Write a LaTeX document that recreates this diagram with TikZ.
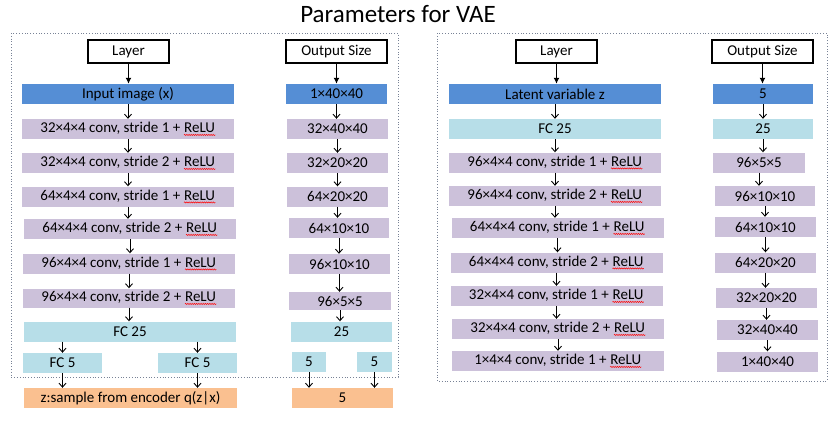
\documentclass[tikz,border=0pt]{standalone}
\usepackage{fontspec}
\setmainfont{Carlito}
\usetikzlibrary{arrows.meta,decorations.pathmorphing}

\definecolor{inblue}{RGB}{85,142,213}
\definecolor{convlilac}{RGB}{204,193,218}
\definecolor{fcblue}{RGB}{183,222,232}
\definecolor{zorange}{RGB}{250,192,144}
\definecolor{framegray}{RGB}{120,130,150}

% ReLU with the red squiggle under it
\newcommand{\relu}{\tikz[baseline=(rl.base)]{\node[inner sep=0pt, minimum width=0pt, minimum height=0pt, fill=none, draw=none] (rl) {ReLU};
  \draw[red, line width=0.5pt, decorate, decoration={snake, amplitude=0.6pt, segment length=2.2pt}]
    ([yshift=-2pt]rl.south west) -- ([yshift=-2pt]rl.south east);}}

\tikzset{
  blk/.style={inner sep=0pt, minimum height=20pt, font=\fontsize{15}{18}\selectfont},
  headblk/.style={blk, draw=black, line width=1.4pt, fill=white, minimum width=81pt, minimum height=23pt},
  inblk/.style={blk, fill=inblue, minimum width=212pt},
  convblk/.style={blk, fill=convlilac, minimum width=212pt},
  fcblk/.style={blk, fill=fcblue, minimum width=212pt},
  zblk/.style={blk, fill=zorange, minimum width=213pt},
  flow/.style={-{Straight Barb[length=4pt,width=7pt]}, line width=0.9pt},
  bigflow/.style={-{Latex[length=6pt,width=6pt]}, line width=1.6pt},
  frame/.style={draw=framegray, dotted, line width=0.8pt}
}

\begin{document}
\begin{tikzpicture}[x=1pt, y=-1pt]
\useasboundingbox (0,0) rectangle (836,421);

% title
\node (title) at (398,14) {\fontsize{25}{30}\selectfont Parameters for VAE};

% dotted frames
\draw[frame] (11,33) rectangle (398,377);
\draw[frame] (437,33) rectangle (827,381);

% encoder: layers
\node[headblk] (elayer) at (128.5,51.5) {Layer};
\node[inblk] (ein) at (128,94) {Input image (x)};
\node[convblk] (ec1) at (128,129) {32×4×4 conv, stride 1 + \relu};
\node[convblk] (ec2) at (128,163) {32×4×4 conv, stride 2 + \relu};
\node[convblk] (ec3) at (128,196.5) {64×4×4 conv, stride 1 + \relu};
\node[convblk] (ec4) at (130,229) {64×4×4 conv, stride 2 + \relu};
\node[convblk] (ec5) at (129,263.5) {96×4×4 conv, stride 1 + \relu};
\node[convblk, minimum height=19pt] (ec6) at (129,298) {96×4×4 conv, stride 2 + \relu};
\node[fcblk] (efc) at (130,331.5) {FC 25};
\node[fcblk, minimum width=79pt] (efca) at (62.5,363) {FC 5};
\node[fcblk, minimum width=79pt] (efcb) at (197.5,363) {FC 5};
\node[zblk] (ez) at (130.5,398) {z:sample from encoder q(z|x)};

% encoder: output sizes
\node[headblk, minimum width=101pt] (eout) at (336.5,51.5) {Output Size};
\node[inblk, minimum width=101pt] (eo0) at (336.5,94) {1×40×40};
\node[convblk, minimum width=101pt] (eo1) at (337.5,129) {32×40×40};
\node[convblk, minimum width=101pt] (eo2) at (337.5,163) {32×20×20};
\node[convblk, minimum width=101pt] (eo3) at (337.5,196.5) {64×20×20};
\node[convblk, minimum width=100pt] (eo4) at (339,228) {64×10×10};
\node[convblk, minimum width=101pt] (eo5) at (339.5,264) {96×10×10};
\node[convblk, minimum width=102pt, minimum height=18pt] (eo6) at (340,301) {96×5×5};
\node[fcblk, minimum width=101pt] (eo7) at (341.5,331.5) {25};
\node[fcblk, minimum width=34pt] (eo8a) at (309,362) {5};
\node[fcblk, minimum width=35pt] (eo8b) at (374.5,362) {5};
\node[zblk, minimum width=101pt] (eoz) at (342.5,398) {5};

% decoder: layers
\node[headblk] (dlayer) at (556.5,51.5) {Layer};
\node[inblk] (din) at (555,94) {Latent variable z};
\node[fcblk] (dfc) at (555,129) {FC 25};
\node[convblk] (dc1) at (555,162.5) {96×4×4 conv, stride 1 + \relu};
\node[convblk] (dc2) at (555,196) {96×4×4 conv, stride 2 + \relu};
\node[convblk] (dc3) at (557.5,228) {64×4×4 conv, stride 1 + \relu};
\node[convblk] (dc4) at (556.5,262.5) {64×4×4 conv, stride 2 + \relu};
\node[convblk] (dc5) at (556.5,296) {32×4×4 conv, stride 1 + \relu};
\node[convblk] (dc6) at (558,329) {32×4×4 conv, stride 2 + \relu};
\node[convblk] (dc7) at (558,361) {1×4×4 conv, stride 1 + \relu};

% decoder: output sizes
\node[headblk, minimum width=101pt] (dout) at (762.5,51.5) {Output Size};
\node[inblk, minimum width=100pt] (do0) at (763,94) {5};
\node[fcblk, minimum width=100pt] (do1) at (763,129) {25};
\node[convblk, minimum width=92pt] (do2) at (759,162.5) {96×5×5};
\node[convblk, minimum width=100pt] (do3) at (765,196) {96×10×10};
\node[convblk, minimum width=101pt] (do4) at (765.5,227) {64×10×10};
\node[convblk, minimum width=101pt] (do5) at (765.5,262.5) {64×20×20};
\node[convblk, minimum width=101pt] (do6) at (766.5,298) {32×20×20};
\node[convblk, minimum width=101pt] (do7) at (767.5,330) {32×40×40};
\node[convblk, minimum width=101pt] (do8) at (767.5,361.5) {1×40×40};

% header arrows
\foreach \a/\b in {elayer/ein, eout/eo0, dlayer/din, dout/do0}
  \draw[bigflow] (\a.south) -- (\a.south |- \b.north);

% chain arrows
\foreach \a/\b in {ein/ec1, ec1/ec2, ec2/ec3, ec3/ec4, ec4/ec5, ec5/ec6, ec6/efc,
                   eo0/eo1, eo1/eo2, eo2/eo3, eo3/eo4, eo4/eo5, eo5/eo6, eo6/eo7,
                   din/dfc, dfc/dc1, dc1/dc2, dc2/dc3, dc3/dc4, dc4/dc5, dc5/dc6, dc6/dc7,
                   do0/do1, do1/do2, do2/do3, do3/do4, do4/do5, do5/do6, do6/do7, do7/do8}
  \draw[flow] (\a.south) -- (\a.south |- \b.north);

% split into the two FC 5 and join at the sample
\foreach \s in {efca, efcb}
  \draw[flow] (\s.north |- efc.south) -- (\s.north);
\foreach \s in {efca, efcb}
  \draw[flow] (\s.south) -- (\s.south |- ez.north);
\foreach \s in {eo8a, eo8b}
  \draw[flow] (\s.south) -- (\s.south |- eoz.north);

\end{tikzpicture}
\end{document}
